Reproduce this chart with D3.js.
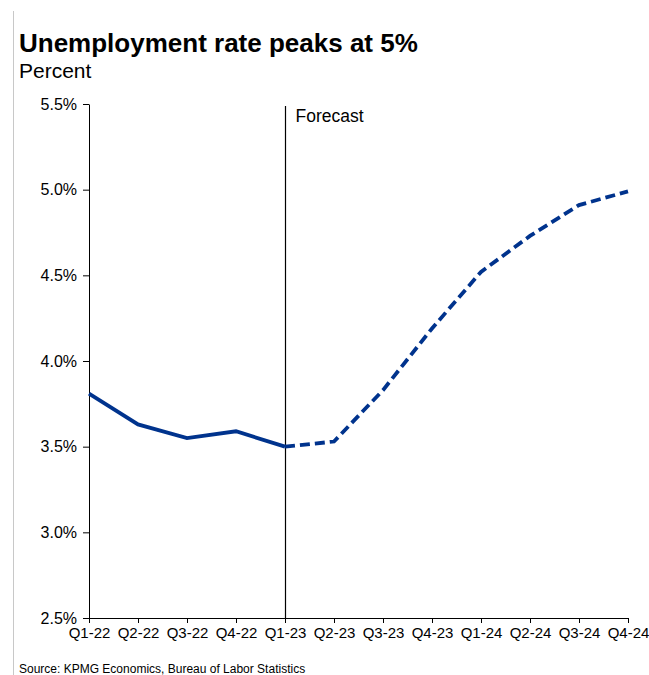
<!DOCTYPE html>
<html><head><meta charset="utf-8">
<script src="https://cdn.jsdelivr.net/npm/d3@7"></script>
<style>body{margin:0;background:#fff;font-family:"Liberation Sans",Arial,sans-serif}</style>
</head><body>
<svg id="c" width="649" height="675"></svg>
<script>
const categories = ["Q1-22","Q2-22","Q3-22","Q4-22","Q1-23","Q2-23","Q3-23","Q4-23","Q1-24","Q2-24","Q3-24","Q4-24"];
const actual = [3.81, 3.63, 3.55, 3.59, 3.50];
const forecast = [3.50, 3.53, 3.83, 4.19, 4.52, 4.73, 4.91, 4.99];
const yTicks = [2.5, 3.0, 3.5, 4.0, 4.5, 5.0, 5.5];
const forecastStart = "Q1-23";

const svg = d3.select("#c");
const m = {l: 89, r: 21, t: 104, b: 57};
const W = 649, H = 675;
const x = d3.scalePoint().domain(categories).range([m.l, W - m.r]);
const y = d3.scaleLinear().domain([2.5, 5.5]).range([H - m.b, m.t]);

svg.append("line").attr("x1",13.5).attr("x2",13.5).attr("y1",11).attr("y2",675)
  .attr("stroke","#c8c8c8").attr("stroke-width",1);

svg.append("text").attr("x",19).attr("y",52).text("Unemployment rate peaks at 5%")
  .attr("font-size",26).attr("font-weight","bold").attr("fill","#000");
svg.append("text").attr("x",19).attr("y",78).text("Percent")
  .attr("font-size",21).attr("fill","#000");

const yAxis = svg.append("g").attr("transform",`translate(${m.l},0)`)
  .call(d3.axisLeft(y).tickValues(yTicks).tickFormat(d=>d.toFixed(1)+"%").tickSize(6).tickSizeOuter(0));
yAxis.selectAll("text").attr("font-size",16).attr("font-family","Liberation Sans, Arial, sans-serif").attr("fill","#000").attr("dx","-3");
yAxis.selectAll("line,path").attr("stroke","#000");

const xAxis = svg.append("g").attr("transform",`translate(0,${H-m.b})`)
  .call(d3.axisBottom(x).tickSize(5).tickSizeOuter(0).tickPadding(4));
xAxis.select("path").attr("d",`M${m.l},0.5H${W-m.r}`);
xAxis.selectAll("text").attr("font-size",15).attr("font-family","Liberation Sans, Arial, sans-serif").attr("fill","#000");
xAxis.selectAll("line,path").attr("stroke","#000");

const fx = Math.round(x(forecastStart)) + 0.5;
svg.append("line").attr("x1",fx).attr("x2",fx).attr("y1",106).attr("y2",H-m.b)
  .attr("stroke","#000").attr("stroke-width",1.2);
svg.append("text").attr("x",fx+10).attr("y",122).text("Forecast")
  .attr("font-size",17.5).attr("fill","#000");

const line = d3.line().x(d=>x(d[0])).y(d=>y(d[1]));
svg.append("path").datum(actual.map((v,i)=>[categories[i],v]))
  .attr("d",line).attr("fill","none").attr("stroke","#00338D").attr("stroke-width",3.8);
svg.append("path").datum(forecast.map((v,i)=>[categories[i+4],v]))
  .attr("d",line).attr("fill","none").attr("stroke","#00338D").attr("stroke-width",3.8)
  .attr("stroke-dasharray","10,5");

svg.append("text").attr("x",19).attr("y",673).text("Source: KPMG Economics, Bureau of Labor Statistics")
  .attr("font-size",12).attr("fill","#000");
</script>
</body></html>
